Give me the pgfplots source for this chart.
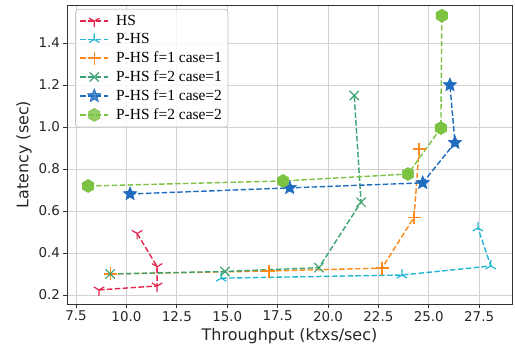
\documentclass[border=0pt]{standalone}
\usepackage{fontspec}
\setmainfont{DejaVu Sans}
\newfontfamily\legfont{Liberation Serif}
\usepackage{pgfplots}
\pgfplotsset{compat=1.18}
\usetikzlibrary{calc,plotmarks}

\definecolor{cHS}{HTML}{E5254D}
\definecolor{cPHS}{HTML}{22B6D4}
\definecolor{cOr}{HTML}{FF8A1C}
\definecolor{cGr}{HTML}{3BA371}
\definecolor{cBl}{HTML}{1F6CC0}
\definecolor{cLg}{HTML}{7CC243}

\pgfdeclareplotmark{fstar}{%
  \pgfpathmoveto{\pgfpointpolar{90}{\pgfplotmarksize}}%
  \pgfpathlineto{\pgfpointpolar{126}{0.45\pgfplotmarksize}}%
  \pgfpathlineto{\pgfpointpolar{162}{\pgfplotmarksize}}%
  \pgfpathlineto{\pgfpointpolar{198}{0.45\pgfplotmarksize}}%
  \pgfpathlineto{\pgfpointpolar{234}{\pgfplotmarksize}}%
  \pgfpathlineto{\pgfpointpolar{270}{0.45\pgfplotmarksize}}%
  \pgfpathlineto{\pgfpointpolar{306}{\pgfplotmarksize}}%
  \pgfpathlineto{\pgfpointpolar{342}{0.45\pgfplotmarksize}}%
  \pgfpathlineto{\pgfpointpolar{18}{\pgfplotmarksize}}%
  \pgfpathlineto{\pgfpointpolar{54}{0.45\pgfplotmarksize}}%
  \pgfpathclose\pgfusepathqfillstroke}
\pgfdeclareplotmark{fhex}{%
  \pgfpathmoveto{\pgfpointpolar{90}{\pgfplotmarksize}}%
  \pgfpathlineto{\pgfpointpolar{150}{\pgfplotmarksize}}%
  \pgfpathlineto{\pgfpointpolar{210}{\pgfplotmarksize}}%
  \pgfpathlineto{\pgfpointpolar{270}{\pgfplotmarksize}}%
  \pgfpathlineto{\pgfpointpolar{330}{\pgfplotmarksize}}%
  \pgfpathlineto{\pgfpointpolar{30}{\pgfplotmarksize}}%
  \pgfpathclose\pgfusepathqfillstroke}

\begin{document}
\begin{tikzpicture}
\begin{axis}[
  width=445bp, height=299bp, scale only axis,
  xmin=7.05, xmax=29.13, ymin=0.157, ymax=1.581,
  xtick={7.5,10,12.5,15,17.5,20,22.5,25,27.5},
  ytick={0.2,0.4,0.6,0.8,1.0,1.2,1.4},
  xticklabel style={/pgf/number format/.cd,fixed,fixed zerofill,precision=1},
  yticklabel style={/pgf/number format/.cd,fixed,fixed zerofill,precision=1},
  /pgf/number format/assume math mode=true,
  tick label style={font=\fontsize{13.5}{15}\selectfont, text=black!85},
  label style={font=\fontsize{16}{18}\selectfont, text=black!85},
  xlabel={Throughput (ktxs/sec)},
  ylabel={Latency (sec)},
  grid=major, grid style={gray!35, line width=0.8bp},
  tick align=outside, tick pos=left, major tick length=3.5bp,
  tick style={black!80, line width=0.8bp},
  axis line style={black!80, line width=0.8bp},
  every axis plot/.append style={dashed, dash pattern=on 5.5bp off 2.4bp, line width=1.4bp},
  legend style={at={(axis description cs:0.018,0.987)}, anchor=north west,
    font=\legfont\fontsize{15.5}{17}\selectfont, draw=black!22, line width=0.8bp, rounded corners=3pt,
    fill=white, fill opacity=0.8, draw opacity=1, text opacity=1, row sep=2.6bp, column sep=5bp,
    inner xsep=4bp, inner ysep=4bp},
  legend cell align=left,
  legend image code/.code={\draw[mark repeat=2,mark phase=2] plot coordinates {(0cm,0cm) (0.5cm,0cm) (1cm,0cm)};},
]
\addplot[color=cHS, mark=Mercedes star flipped, mark size=6bp, mark options={solid, line width=1.2bp}]
  coordinates {(8.64,0.224) (11.52,0.243) (11.52,0.335) (10.53,0.493)};
\addlegendentry{HS}
\addplot[color=cPHS, mark=Mercedes star, mark size=6bp, mark options={solid, line width=1.2bp}]
  coordinates {(14.7,0.28) (23.67,0.295) (28.08,0.338) (27.44,0.519)};
\addlegendentry{P-HS}
\addplot[color=cOr, mark=+, mark size=6.5bp, mark options={solid, line width=1.2bp}]
  coordinates {(9.19,0.300) (17.07,0.314) (22.68,0.328) (24.27,0.57) (24.52,0.895)};
\addlegendentry{P-HS f=1 case=1}
\addplot[color=cGr, mark=x, mark size=6.5bp, mark options={solid, line width=1.2bp}]
  coordinates {(9.19,0.300) (14.89,0.312) (19.55,0.33) (21.64,0.642) (21.3,1.15)};
\addlegendentry{P-HS f=2 case=1}
\addplot[color=cBl, mark=fstar, mark size=7bp, mark options={solid, line width=0.6bp, fill=cBl}]
  coordinates {(10.18,0.681) (18.1,0.71) (24.7,0.734) (26.3,0.925) (26.05,1.2)};
\addlegendentry{P-HS f=1 case=2}
\addplot[color=cLg, mark=fhex, mark size=6.5bp, mark options={solid, line width=0.6bp, fill=cLg}]
  coordinates {(8.1,0.719) (17.77,0.743) (23.97,0.776) (25.6,0.995) (25.65,1.53)};
\addlegendentry{P-HS f=2 case=2}
\end{axis}
\pgfresetboundingbox
\path ($(current axis.south west)+(-67bp,-45bp)$) rectangle ($(current axis.north east)+(3bp,5bp)$);
\end{tikzpicture}
\end{document}
